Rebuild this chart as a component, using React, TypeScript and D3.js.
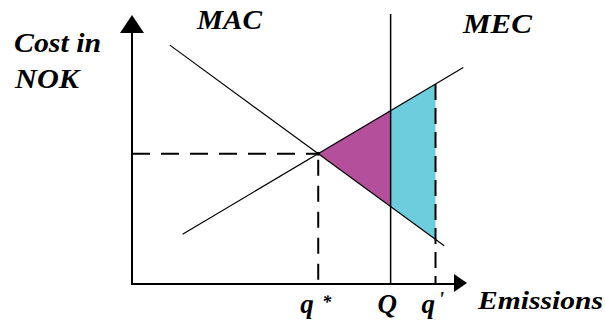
import React from "react";
import * as d3 from "d3";

// Data (in abstract units: emissions 0-100, cost 0-100)
const macLine = [
  { x: 11.3, y: 88.8 },
  { x: 93.2, y: 14.2 },
];
const mecLine = [
  { x: 15.1, y: 18.5 },
  { x: 98.9, y: 80.5 },
];
const quotaQ = 77.2;
const qPrime = 90.6;
const xTickLabels = ["q", "Q", "q"];

const W = 606;
const H = 327;

function lineFn(pts: { x: number; y: number }[]) {
  const s = (pts[1].y - pts[0].y) / (pts[1].x - pts[0].x);
  return (x: number) => pts[0].y + s * (x - pts[0].x);
}

function fontCss(size: number): React.CSSProperties {
  return { font: `italic bold ${size}px "Liberation Serif", "Times New Roman", serif` };
}

export default function App() {
  const x = d3.scaleLinear().domain([0, 100]).range([132, 467]);
  const y = d3.scaleLinear().domain([0, 100]).range([284, 15]);
  const mac = lineFn(macLine);
  const mec = lineFn(mecLine);
  const s1 = (macLine[1].y - macLine[0].y) / (macLine[1].x - macLine[0].x);
  const s2 = (mecLine[1].y - mecLine[0].y) / (mecLine[1].x - mecLine[0].x);
  const qStar = (mecLine[0].y - macLine[0].y + s1 * macLine[0].x - s2 * mecLine[0].x) / (s1 - s2);
  const pStar = mac(qStar);

  const line = d3
    .line<{ x: number; y: number }>()
    .x((d) => x(d.x))
    .y((d) => y(d.y));

  const purple = [
    { x: qStar, y: pStar },
    { x: quotaQ, y: mec(quotaQ) },
    { x: quotaQ, y: mac(quotaQ) },
  ];
  const cyan = [
    { x: quotaQ, y: mec(quotaQ) },
    { x: qPrime, y: mec(qPrime) },
    { x: qPrime, y: mac(qPrime) },
    { x: quotaQ, y: mac(quotaQ) },
  ];

  const x0 = x(0);
  const y0 = y(0);

  return (
    <svg width={W} height={H} style={{ position: "absolute", left: 0, top: 0, background: "#fff" }}>
      <path d={line(purple)! + "Z"} fill="#B4509B" />
      <path d={line(cyan)! + "Z"} fill="#6ECDDD" />

      <line x1={x0} x2={x(qStar)} y1={y(pStar)} y2={y(pStar)} stroke="#000" strokeWidth={2} strokeDasharray="18,11" />
      <line x1={x(qStar)} x2={x(qStar)} y1={y(pStar)} y2={y0} stroke="#000" strokeWidth={2} strokeDasharray="16,10" strokeDashoffset={-6} />
      <line x1={x(qPrime)} x2={x(qPrime)} y1={y(mec(qPrime))} y2={y0} stroke="#000" strokeWidth={2} strokeDasharray="16,8" />

      <line x1={x(quotaQ)} x2={x(quotaQ)} y1={14} y2={y0} stroke="#000" strokeWidth={1.5} />

      <path d={line(macLine)!} stroke="#000" strokeWidth={1.2} fill="none" />
      <path d={line(mecLine)!} stroke="#000" strokeWidth={1.2} fill="none" />
      <circle cx={x(qStar)} cy={y(pStar)} r={2} fill="#000" />

      <line x1={x0} x2={x0} y1={y0 + 1} y2={30} stroke="#000" strokeWidth={2} />
      <path d={`M${x0},${y(100)} L${x0 - 12},${y(100) + 18} L${x0 + 12},${y(100) + 18} Z`} fill="#000" />
      <line x1={x0 - 1} x2={456} y1={y0} y2={y0} stroke="#000" strokeWidth={2} />
      <path d={`M${x(100)},${y0 - 1} L${x(100) - 13},${y0 - 10} L${x(100) - 13},${y0 + 8} Z`} fill="#000" />

      <text x={14} y={52} style={fontCss(27)} textLength={87} lengthAdjust="spacingAndGlyphs">Cost in</text>
      <text x={15} y={88} style={fontCss(27)} textLength={64} lengthAdjust="spacingAndGlyphs">NOK</text>
      <text x={197} y={29} style={fontCss(27)} textLength={65} lengthAdjust="spacingAndGlyphs">MAC</text>
      <text x={463} y={33} style={fontCss(27)} textLength={69} lengthAdjust="spacingAndGlyphs">MEC</text>
      <text x={478} y={309} style={fontCss(25)} textLength={125} lengthAdjust="spacingAndGlyphs">Emissions</text>
      <text x={x(qStar) - 18} y={313} style={fontCss(27)}>{xTickLabels[0]}</text>
      <text x={x(qStar) + 4} y={308} style={fontCss(18)}>*</text>
      <text x={x(quotaQ) - 13} y={313} style={fontCss(27)}>{xTickLabels[1]}</text>
      <text x={x(qPrime) - 14} y={313} style={fontCss(27)}>{xTickLabels[2]}</text>
      <text x={x(qPrime) + 3} y={306} style={fontCss(20)}>'</text>
    </svg>
  );
}
